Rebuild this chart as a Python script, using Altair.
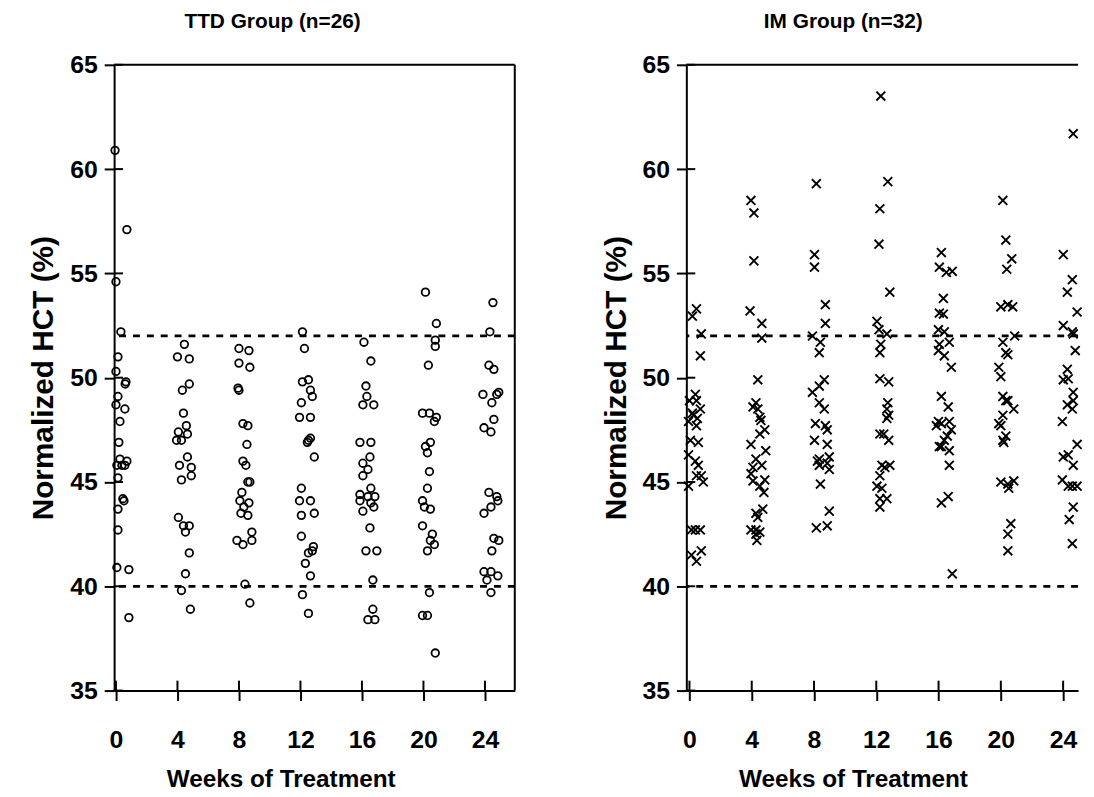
import altair as alt
import pandas as pd

# ---------------- data ----------------
# (plotted week position incl. horizontal spread, normalized HCT %)
TTD_W0 = [(-0.06, 60.9), (0.71, 57.1), (0.0, 54.6), (0.32, 52.2), (0.13, 51.0), (0.0, 50.3),
          (0.65, 49.8), (0.6, 49.7), (0.13, 49.1), (0.0, 48.7), (0.58, 48.5), (0.26, 47.9),
          (0.19, 46.9), (0.26, 46.1), (0.71, 46.0), (0.06, 45.8), (0.39, 45.8), (0.58, 45.8),
          (0.13, 45.2), (0.45, 44.2), (0.52, 44.1), (0.13, 43.7), (0.13, 42.7), (0.06, 40.9),
          (0.84, 40.8), (0.84, 38.5)]
TTD_W4 = [(4.45, 51.6), (4.0, 51.0), (4.77, 50.9), (4.77, 49.7), (4.32, 49.4), (4.39, 48.3),
          (4.58, 47.7), (4.06, 47.4), (4.65, 47.3), (3.94, 47.0), (4.26, 47.0), (4.65, 46.2),
          (4.13, 45.8), (4.9, 45.7), (4.26, 45.1), (4.9, 45.3), (4.06, 43.3), (4.39, 42.9),
          (4.77, 42.9), (4.52, 42.6), (4.77, 41.6), (4.52, 40.6), (4.26, 39.8), (4.84, 38.9)]
TTD_W8 = [(8.0, 51.4), (8.65, 51.3), (8.0, 50.7), (8.71, 50.5), (7.94, 49.5), (8.0, 49.4),
          (8.26, 47.8), (8.58, 47.7), (8.52, 46.8), (8.26, 46.0), (8.45, 45.8), (8.58, 45.0),
          (8.71, 45.0), (8.19, 44.5), (8.06, 44.1), (8.65, 44.0), (8.32, 43.8), (8.13, 43.5),
          (8.58, 43.4), (7.87, 42.2), (8.26, 42.0), (8.84, 42.2), (8.84, 42.6), (8.39, 40.1),
          (8.71, 39.2)]
TTD_W12 = [(12.13, 52.2), (12.26, 51.4), (12.13, 49.8), (12.52, 49.9), (12.65, 49.4), (12.77, 49.1),
           (12.06, 48.8), (11.94, 48.1), (12.65, 48.1), (12.65, 47.1), (12.52, 47.0), (12.45, 46.9),
           (12.9, 46.2), (12.06, 44.7), (11.94, 44.1), (12.65, 44.1), (12.06, 43.4), (12.9, 43.5),
           (12.06, 42.4), (12.52, 41.6), (12.77, 41.7), (12.84, 41.9), (12.32, 41.1), (12.65, 40.5),
           (12.13, 39.6), (12.52, 38.7)]
TTD_W16 = [(16.13, 51.7), (16.58, 50.8), (16.26, 49.6), (16.32, 49.1), (16.06, 48.7), (16.77, 48.7),
           (15.87, 46.9), (16.58, 46.9), (16.52, 46.2), (16.06, 45.9), (16.39, 45.6), (16.06, 45.3),
           (16.58, 44.7), (15.87, 44.4), (16.39, 44.3), (16.84, 44.3), (15.87, 44.1), (16.58, 44.0),
           (16.77, 43.8), (16.06, 43.6), (16.52, 42.8), (16.26, 41.7), (16.97, 41.7), (16.71, 40.3),
           (16.71, 38.9), (16.39, 38.4), (16.84, 38.4)]
TTD_W20 = [(20.13, 54.1), (20.84, 52.6), (20.77, 51.8), (20.77, 51.5), (20.32, 50.6), (19.94, 48.3),
           (20.39, 48.3), (20.84, 48.1), (20.71, 47.9), (20.45, 46.9), (20.13, 46.7), (20.26, 46.4),
           (20.39, 45.5), (20.26, 44.7), (19.94, 44.1), (20.06, 43.8), (20.45, 43.7), (19.94, 42.9),
           (20.58, 42.5), (20.45, 42.2), (20.71, 42.0), (20.26, 41.7), (20.39, 39.7), (19.94, 38.6),
           (20.26, 38.6), (20.77, 36.8)]
TTD_W24 = [(24.52, 53.6), (24.32, 52.2), (24.26, 50.6), (24.58, 50.4), (23.87, 49.2), (24.45, 48.8),
           (24.77, 49.2), (24.9, 49.3), (24.58, 48.0), (23.94, 47.6), (24.39, 47.4), (24.26, 44.5),
           (24.77, 44.3), (24.84, 44.1), (24.39, 43.8), (23.94, 43.5), (24.58, 42.3), (24.9, 42.2),
           (24.45, 41.7), (23.94, 40.7), (24.39, 40.7), (24.84, 40.5), (24.13, 40.3), (24.39, 39.7)]

IM_W0 = [(0.19, 52.95), (0.45, 53.3), (0.76, 52.1), (0.7, 51.05), (0.38, 49.2), (0.0, 48.9),
         (0.45, 48.9), (0.7, 48.5), (0.19, 48.3), (0.25, 48.2), (0.51, 48.05), (-0.06, 47.9),
         (0.45, 47.7), (0.06, 47.0), (0.57, 46.9), (-0.06, 46.3), (0.38, 46.0), (0.57, 45.8),
         (0.45, 45.3), (0.76, 45.3), (0.89, 45.0), (-0.06, 44.8), (0.13, 42.7), (0.38, 42.7),
         (0.7, 42.7), (0.76, 41.7), (0.13, 41.5), (0.45, 41.2)]
IM_W4 = [(3.95, 58.5), (4.14, 57.9), (4.14, 55.6), (3.89, 53.2), (4.65, 52.6), (4.65, 51.9),
         (4.39, 49.9), (4.27, 48.8), (4.08, 48.6), (4.39, 48.5), (4.52, 48.1), (4.59, 47.95),
         (4.84, 47.5), (4.52, 47.3), (3.95, 46.8), (4.9, 46.5), (4.27, 46.1), (4.65, 45.8),
         (4.08, 45.7), (3.95, 45.4), (4.84, 45.1), (4.08, 45.05), (4.52, 44.8), (4.78, 44.5),
         (4.71, 43.7), (4.27, 43.5), (4.39, 43.3), (3.95, 42.7), (4.27, 42.7), (4.52, 42.6),
         (4.27, 42.5), (4.33, 42.2)]
IM_W8 = [(8.15, 59.3), (8.03, 55.9), (8.03, 55.3), (8.73, 53.5), (8.73, 52.6), (7.9, 52.0),
         (8.41, 51.7), (8.34, 51.2), (8.66, 49.9), (8.34, 49.6), (7.9, 49.3), (8.34, 48.8),
         (8.66, 48.5), (8.09, 47.8), (8.73, 47.7), (8.85, 47.5), (8.03, 47.0), (8.85, 46.8),
         (8.34, 46.1), (8.22, 46.0), (8.98, 46.2), (8.85, 45.9), (8.34, 45.8), (8.98, 45.6),
         (8.41, 44.9), (8.98, 43.6), (8.15, 42.8), (8.85, 42.9)]
IM_W12 = [(12.29, 63.5), (12.74, 59.4), (12.23, 58.1), (12.17, 56.4), (12.87, 54.1), (12.04, 52.7),
          (12.17, 52.3), (12.68, 52.1), (12.29, 51.6), (12.23, 51.2), (12.23, 49.95), (12.8, 49.8),
          (12.74, 48.8), (12.68, 48.5), (12.8, 48.2), (12.68, 48.05), (12.23, 47.3), (12.48, 47.3),
          (12.8, 47.0), (12.36, 45.8), (12.55, 45.7), (12.87, 45.8), (12.23, 45.3), (12.04, 44.8),
          (12.36, 44.7), (12.68, 44.2), (12.23, 44.2), (12.23, 43.8)]
IM_W16 = [(16.18, 56.0), (16.05, 55.3), (16.5, 55.05), (16.88, 55.1), (16.31, 53.8), (16.05, 53.1),
          (16.31, 53.05), (15.99, 52.3), (16.37, 52.2), (16.05, 51.6), (16.69, 51.7), (15.99, 51.3),
          (16.37, 51.05), (16.82, 50.5), (16.18, 49.1), (16.62, 48.6), (15.99, 47.9), (16.18, 47.8),
          (16.69, 47.9), (15.86, 47.7), (16.82, 47.5), (16.56, 47.2), (16.37, 47.0), (16.05, 46.7),
          (16.69, 46.5), (16.18, 46.7), (16.69, 45.8), (16.18, 44.0), (16.62, 44.3), (16.88, 40.6)]
IM_W20 = [(20.13, 58.5), (20.32, 56.6), (20.7, 55.7), (20.38, 55.2), (20.0, 53.4), (20.45, 53.5),
          (20.76, 53.4), (20.13, 51.7), (20.89, 52.0), (20.32, 51.2), (20.45, 51.1), (19.87, 50.5),
          (20.0, 50.05), (20.13, 49.1), (20.32, 48.9), (20.45, 48.9), (20.83, 48.5), (20.13, 48.2),
          (19.87, 47.8), (20.0, 47.7), (20.32, 47.2), (20.13, 47.0), (20.19, 46.9), (20.0, 45.0),
          (20.45, 44.9), (20.83, 45.05), (20.51, 44.7), (20.64, 43.0), (20.45, 42.5), (20.45, 41.7)]
IM_W24 = [(24.65, 61.7), (24.01, 55.9), (24.59, 54.7), (24.27, 54.1), (24.9, 53.15), (24.01, 52.5),
          (24.59, 52.2), (24.65, 52.1), (24.78, 51.3), (24.27, 50.4), (24.01, 49.9), (24.33, 49.95),
          (24.65, 49.3), (24.65, 48.9), (24.27, 48.7), (24.59, 48.5), (23.95, 47.9), (24.01, 46.2),
          (24.33, 46.3), (24.9, 46.8), (24.65, 45.8), (23.95, 45.1), (24.33, 44.8), (24.59, 44.8),
          (24.9, 44.8), (24.65, 43.8), (24.39, 43.2), (24.59, 42.05)]

NORMAL_LIMITS = [52, 40]          # dashed reference lines
Y_TICKS = [35, 40, 45, 50, 55, 60, 65]
X_TICKS = [0, 4, 8, 12, 16, 20, 24]
TITLES = ["TTD Group (n=26)", "IM Group (n=32)"]
X_TITLE = "Weeks of Treatment"
Y_TITLE = "Normalized HCT (%)"

FONT = "Liberation Sans, Arial, Helvetica, sans-serif"
H = 631
W_LEFT = 404
W_RIGHT = 395
X_PATH = "M-1,-1L1,1M-1,1L1,-1"


def frame(rows):
    return pd.DataFrame({"week": [r[0] for r in rows], "hct": [r[1] for r in rows]})


ttd = frame(TTD_W0 + TTD_W4 + TTD_W8 + TTD_W12 + TTD_W16 + TTD_W20 + TTD_W24)
im = frame(IM_W0 + IM_W4 + IM_W8 + IM_W12 + IM_W16 + IM_W20 + IM_W24)
limits = pd.DataFrame({"hct": NORMAL_LIMITS})
yt = pd.DataFrame({"hct": Y_TICKS})
xt = pd.DataFrame({"week": X_TICKS})
one = pd.DataFrame({"a": [0]})


def panel(df, shape, size, sw, title, width, xdom, box):
    xs = alt.Scale(domain=xdom, nice=False, zero=False)
    ys = alt.Scale(domain=[35, 65], nice=False, zero=False)
    xaxis = alt.Axis(values=X_TICKS, title=X_TITLE, labelFontSize=25, labelFontWeight="bold",
                     titleFontSize=24.5, titleFontWeight="bold", labelPadding=27, titlePadding=16,
                     titleX=168, titleAlign="center",
                     tickSize=10, tickWidth=2, domainWidth=2, labelFont=FONT, titleFont=FONT,
                     labelFlush=False, grid=False)
    yaxis = alt.Axis(values=Y_TICKS, title=Y_TITLE, labelFontSize=25, labelFontWeight="bold",
                     titleFontSize=30, titleFontWeight="bold", labelPadding=7, titlePadding=11,
                     tickSize=10, tickWidth=2, domainWidth=2, labelFont=FONT, titleFont=FONT,
                     labelFlush=False, grid=False)
    pts = alt.Chart(df).mark_point(shape=shape, filled=False, color="black", size=size,
                                   strokeWidth=sw, opacity=1).encode(
        x=alt.X("week:Q", scale=xs, axis=xaxis),
        y=alt.Y("hct:Q", scale=ys, axis=yaxis),
    )
    refs = alt.Chart(limits).mark_rule(color="black", strokeWidth=2.8, strokeDash=[7, 7]).encode(
        y="hct:Q")
    ytin = alt.Chart(yt).mark_rule(color="black", strokeWidth=2).encode(
        y="hct:Q", x=alt.value(0), x2=alt.value(9))
    xtin = alt.Chart(xt).mark_rule(color="black", strokeWidth=2).encode(
        x="week:Q", y=alt.value(H), y2=alt.value(H - 10))
    top = alt.Chart(one).mark_rule(color="black", strokeWidth=2).encode(
        y=alt.value(0), x=alt.value(0), x2=alt.value(width))
    layers = [pts, refs, ytin, xtin, top]
    if box:
        right = alt.Chart(one).mark_rule(color="black", strokeWidth=2).encode(
            x=alt.value(width), y=alt.value(0), y2=alt.value(H))
        layers.append(right)
    return alt.layer(*layers).properties(
        width=width, height=H,
        title=alt.TitleParams(text=title, fontSize=21, fontWeight="bold", font=FONT,
                              anchor="middle", frame="bounds", offset=21, color="black"),
    )


left = panel(ttd, "circle", 58, 1.8, TITLES[0], W_LEFT, [-0.12, 25.94], True)
right = panel(im, X_PATH, 80, 1.9, TITLES[1], W_RIGHT, [-0.2, 24.96], False)

chart = alt.hconcat(left, right, spacing=85).properties(
    padding={"left": 21, "top": 0, "right": 0, "bottom": 0}
).configure_view(strokeWidth=0).configure_axis(
    grid=False, domainColor="black", tickColor="black", labelColor="black", titleColor="black"
)

chart.save("out.html", embed_options={"renderer": "svg", "actions": False})
